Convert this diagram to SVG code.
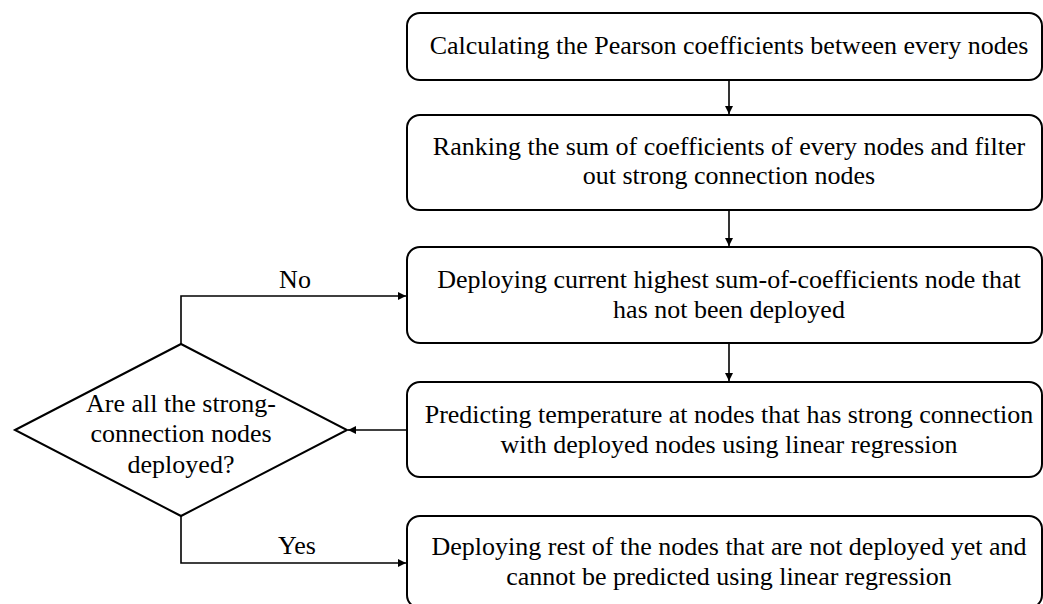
<svg xmlns="http://www.w3.org/2000/svg" width="1043" height="604" viewBox="0 0 1043 604">
  <defs>
    <marker id="ah" viewBox="0 0 10 10" refX="10" refY="5" markerWidth="10" markerHeight="8" markerUnits="userSpaceOnUse" orient="auto">
      <path d="M0,0 L10,5 L0,10 Z" fill="#000"/>
    </marker>
  </defs>
  <style>
    .box { fill: #fff; stroke: #000; stroke-width: 2; }
    .t { font-family: 'Liberation Serif', 'DejaVu Serif', serif; font-size: 26px; fill: #000; text-anchor: middle; }
    .c { fill: none; stroke: #000; stroke-width: 1.6; marker-end: url(#ah); }
  </style>
  <rect width="1043" height="604" fill="#fff"/>
  <g id="n1">
    <rect class="box" x="407" y="13" width="635" height="67" rx="13"/>
    <text class="t" x="729" y="54">Calculating the Pearson coefficients between every nodes</text>
  </g>
  <g id="n2">
    <rect class="box" x="407" y="115" width="635" height="95" rx="13"/>
    <text class="t" x="729" y="155">Ranking the sum of coefficients of every nodes and filter</text>
    <text class="t" x="729" y="184">out strong connection nodes</text>
  </g>
  <g id="n3">
    <rect class="box" x="407" y="247" width="635" height="96" rx="13"/>
    <text class="t" x="729" y="288">Deploying current highest sum-of-coefficients node that</text>
    <text class="t" x="729" y="318">has not been deployed</text>
  </g>
  <g id="n4">
    <rect class="box" x="407" y="382" width="635" height="95" rx="13"/>
    <text class="t" x="729" y="423">Predicting temperature at nodes that has strong connection</text>
    <text class="t" x="729" y="453">with deployed nodes using linear regression</text>
  </g>
  <g id="n5">
    <rect class="box" x="407" y="516" width="635" height="92" rx="13"/>
    <text class="t" x="729" y="555">Deploying rest of the nodes that are not deployed yet and</text>
    <text class="t" x="729" y="585">cannot be predicted using linear regression</text>
  </g>
  <g id="decision">
    <polygon class="box" points="15,430 181,344 347,430 181,516"/>
    <text class="t" x="181" y="412">Are all the strong-</text>
    <text class="t" x="181" y="442">connection nodes</text>
    <text class="t" x="181" y="473">deployed?</text>
  </g>
  <g id="connectors">
    <path class="c" d="M729,80 V114"/>
    <path class="c" d="M729,210 V246"/>
    <path class="c" d="M729,343 V381"/>
    <path class="c" d="M407,430 H348"/>
    <path class="c" d="M181,344 V296 H406"/>
    <path class="c" d="M181,516 V563 H406"/>
    <text class="t" x="295" y="288">No</text>
    <text class="t" x="297" y="554">Yes</text>
  </g>
</svg>
